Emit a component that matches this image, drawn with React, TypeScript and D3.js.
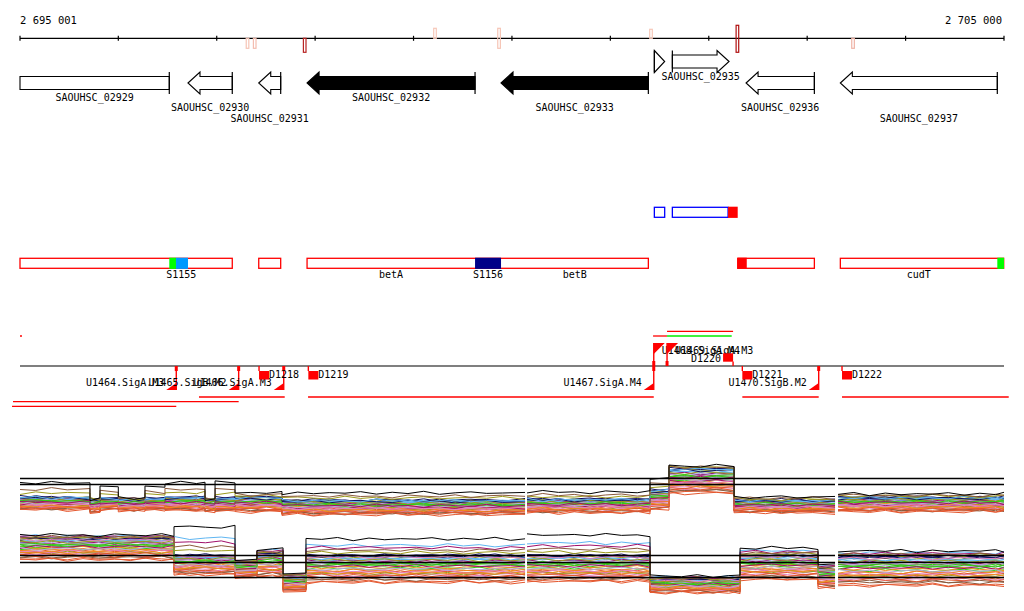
import * as d3 from "d3";

const VIEW_START = 2695001;
const VIEW_END = 2705000;

const axisTicks = [2695001, 2696000, 2697000, 2698000, 2699000, 2700000, 2701000, 2702000, 2703000, 2704000, 2705000];
const axisLabels = ["2 695 001", "2 705 000"];

// small read-count marks on the ruler (fwd above, rev below)
const axisMarks = [
  { pos: 2697313, fwd: 0, rev: 1, score: 0.12 },
  { pos: 2697386, fwd: 0, rev: 1, score: 0.15 },
  { pos: 2697894, fwd: 0, rev: 1.4, score: 0.9 },
  { pos: 2699218, fwd: 1, rev: 0, score: 0.1 },
  { pos: 2699869, fwd: 1, rev: 1, score: 0.12 },
  { pos: 2701413, fwd: 0.9, rev: 0, score: 0.1 },
  { pos: 2702291, fwd: 1.3, rev: 1.4, score: 1 },
  { pos: 2703466, fwd: 0, rev: 1, score: 0.2 },
];

const genes = [
  { name: "SAOUHSC_02929", start: 2694700, end: 2696518, strand: -1, filled: false, labelLevel: 0 },
  { name: "SAOUHSC_02930", start: 2696708, end: 2697158, strand: -1, filled: false, labelLevel: 1 },
  { name: "SAOUHSC_02931", start: 2697427, end: 2697650, strand: -1, filled: false, labelLevel: 2 },
  { name: "SAOUHSC_02932", start: 2697918, end: 2699625, strand: -1, filled: true, labelLevel: 0 },
  { name: "SAOUHSC_02933", start: 2699889, end: 2701386, strand: -1, filled: true, labelLevel: 1 },
  { name: "", start: 2701447, end: 2701552, strand: 1, filled: false, labelLevel: 0 },
  { name: "SAOUHSC_02935", start: 2701630, end: 2702206, strand: 1, filled: false, labelLevel: 0 },
  { name: "SAOUHSC_02936", start: 2702379, end: 2703073, strand: -1, filled: false, labelLevel: 1 },
  { name: "SAOUHSC_02937", start: 2703337, end: 2704932, strand: -1, filled: false, labelLevel: 2 },
];

const featureBoxes = [
  { row: 0, start: 2701447, end: 2701552, color: "#0000ff" },
  { row: 0, start: 2701630, end: 2702196, color: "#0000ff" },
  { row: 1, start: 2695001, end: 2697158, color: "#ff0000" },
  { row: 1, start: 2697427, end: 2697650, color: "#ff0000" },
  { row: 1, start: 2697918, end: 2701386, color: "#ff0000" },
  { row: 1, start: 2702294, end: 2703073, color: "#ff0000" },
  { row: 1, start: 2703337, end: 2704997, color: "#ff0000" },
];
const featureFills = [
  { row: 0, start: 2702196, end: 2702294, color: "#ff0000" },
  { row: 1, start: 2696518, end: 2696586, color: "#00ff00" },
  { row: 1, start: 2696586, end: 2696708, color: "#0099ff" },
  { row: 1, start: 2699625, end: 2699889, color: "#000088" },
  { row: 1, start: 2702294, end: 2702386, color: "#ff0000" },
  { row: 1, start: 2704932, end: 2705000, color: "#00ff00" },
];
const featureLabels = [
  { text: "S1155", start: 2696518, end: 2696760 },
  { text: "betA", start: 2697918, end: 2699625 },
  { text: "S1156", start: 2699625, end: 2699889 },
  { text: "betB", start: 2699889, end: 2701386 },
  { text: "cudT", start: 2703337, end: 2704932 },
];

const tssSites = [
  { pos: 2696589, strand: -1, label: "U1464.SigA.M3" },
  { pos: 2697223, strand: -1, label: "U1465.SigB.M2" },
  { pos: 2697681, strand: -1, label: "U1466.SigA.M3" },
  { pos: 2701441, strand: -1, label: "U1467.SigA.M4" },
  { pos: 2703117, strand: -1, label: "U1470.SigB.M2" },
  { pos: 2701441, strand: 1, label: "U1468.SigA.M4" },
  { pos: 2701576, strand: 1, label: "U1469.SigA.M3" },
];
const dSites = [
  { pos: 2697430, strand: -1, label: "D1218" },
  { pos: 2697931, strand: -1, label: "D1219" },
  { pos: 2702247, strand: 1, label: "D1220" },
  { pos: 2702341, strand: -1, label: "D1221" },
  { pos: 2703354, strand: -1, label: "D1222" },
];
const transcripts = [
  { start: 2694930, end: 2697223, strand: -1, level: 2, color: "#ff0000" },
  { start: 2694920, end: 2696589, strand: -1, level: 3, color: "#ff0000" },
  { start: 2696820, end: 2697691, strand: -1, level: 1, color: "#ff0000" },
  { start: 2697928, end: 2701441, strand: -1, level: 1, color: "#ff0000" },
  { start: 2702341, end: 2703117, strand: -1, level: 1, color: "#ff0000" },
  { start: 2703354, end: 2705048, strand: -1, level: 1, color: "#ff0000" },
  { start: 2701576, end: 2702247, strand: 1, level: 2, color: "#ff0000" },
  { start: 2701576, end: 2702233, strand: 1, level: 1, color: "#00ee00" },
  { start: 2701434, end: 2701576, strand: 1, level: 1, color: "#ff0000" },
  { start: 2695001, end: 2695021, strand: 1, level: 1, color: "#ff0000" },
];

// expression tiles
const panels = [
  [2695001, 2700133],
  [2700153, 2703283],
  [2703314, 2705000],
];
const track1Refs = [11.3, 10.1];
const track2Refs = [11.9, 10.5, 7.5];

const track1Segments = [
  { from: 2695001, to: 2695712, bottom: 5.0, top: 7.6, peak: 10.4 },
  { from: 2695712, to: 2695814, bottom: 4.4, top: 7.2, peak: 7.2 },
  { from: 2695814, to: 2696000, bottom: 5.0, top: 7.4, peak: 9.8 },
  { from: 2696000, to: 2696271, bottom: 4.8, top: 7.2, peak: 7.4 },
  { from: 2696271, to: 2696474, bottom: 5.0, top: 7.4, peak: 9.6 },
  { from: 2696474, to: 2696881, bottom: 4.8, top: 7.6, peak: 10.4 },
  { from: 2696881, to: 2696983, bottom: 4.6, top: 7.2, peak: 7.2 },
  { from: 2696983, to: 2697186, bottom: 4.8, top: 7.4, peak: 10.6 },
  { from: 2697186, to: 2697663, bottom: 4.6, top: 7.6, peak: 8.4 },
  { from: 2697663, to: 2700133, bottom: 4.0, top: 7.0, peak: 8.4 },
  { from: 2700153, to: 2701403, bottom: 4.4, top: 7.2, peak: 8.6 },
  { from: 2701403, to: 2701596, bottom: 5.0, top: 9.0, peak: 11.4 },
  { from: 2701596, to: 2702257, bottom: 8.2, top: 13.4, peak: 13.8 },
  { from: 2702257, to: 2703283, bottom: 4.4, top: 7.0, peak: 7.6 },
  { from: 2703314, to: 2705000, bottom: 4.6, top: 7.6, peak: 8.2 },
];
const track2Segments = [
  { from: 2695001, to: 2696566, bottom: 11.0, top: 15.4, peak: 16.0 },
  { from: 2696566, to: 2697186, bottom: 8.0, top: 12.0, peak: 17.6 },
  { from: 2697186, to: 2697409, bottom: 7.4, top: 10.6, peak: 11.0 },
  { from: 2697409, to: 2697674, bottom: 7.6, top: 12.4, peak: 13.2 },
  { from: 2697674, to: 2697907, bottom: 4.6, top: 7.8, peak: 8.4 },
  { from: 2697907, to: 2700133, bottom: 6.4, top: 12.0, peak: 15.2 },
  { from: 2700153, to: 2701403, bottom: 6.6, top: 12.0, peak: 16.0 },
  { from: 2701403, to: 2702318, bottom: 4.4, top: 7.2, peak: 7.8 },
  { from: 2702318, to: 2703110, bottom: 7.0, top: 12.0, peak: 13.4 },
  { from: 2703110, to: 2703283, bottom: 5.4, top: 9.4, peak: 10.0 },
  { from: 2703314, to: 2705000, bottom: 5.8, top: 11.8, peak: 12.8 },
];

const seriesColors = [
  "#000000", "#8b5a3c", "#9c9a1c", "#e4572e", "#a0106a", "#5fb6f2", "#33cc11", "#e47fbf", "#101060", "#b8a6dc",
  "#f08a1c", "#e4572e", "#9c9a1c", "#a0106a", "#33cc11", "#5fb6f2", "#e47fbf", "#8b5a3c", "#b8a6dc", "#e4572e",
  "#101060", "#f08a1c", "#9c9a1c", "#a0106a", "#33cc11", "#e47fbf", "#5fb6f2", "#e4572e", "#b8a6dc", "#8b5a3c",
  "#f08a1c", "#9c9a1c", "#e4572e", "#a0106a", "#33cc11", "#5fb6f2", "#e47fbf", "#e4572e", "#b8a6dc", "#101060",
];
const track1Ranks = [2, 1.55, 1.3, 0.08, 0.62, 0.95, 0.7, 0.45, 0.9, 0.55, 0.3, 0.18, 0.82, 0.5, 0.66, 0.88, 0.4, 0.12, 0.74, 0.25,
  0.97, 0.58, 0.35, 0.78, 0.6, 0.22, 0.85, 0.02, 0.68, 0.15, 0.48, 0.92, 0.38, 0.72, 0.52, 0.8, 0.28, 0.42, 0.64, 0.99];
const track2Ranks = [2, 1.3, 1.15, 0.05, 1.45, 1.6, 0.7, 0.92, 0.98, 0.5, 0.35, 0.2, 0.82, 0.6, 0.66, 0.88, 0.4, 0.12, 0.74, 0.27,
  0.95, 0.56, 0.33, 0.78, 0.62, 0.22, 0.85, 0.02, 0.68, 0.15, 0.46, 0.9, 0.38, 0.72, 0.52, 0.8, 0.3, 0.44, 0.64, 0.99];
const wobble = [0.3, -0.5, 0.8, -0.2, 0.1, -0.9, 0.6, 0.0, -0.4, 0.7, -0.7, 0.2, 0.5, -0.1, -0.6, 0.9, -0.3, 0.4, -0.8, 0.1,
  0.6, -0.5, 0.0, 0.3, -0.2, 0.8, -0.9, 0.5, -0.4, 0.2, -0.1, 0.7, -0.6, 0.4, -0.3, 0.9, -0.7, 0.1, 0.6, -0.2, 0.0];

const FONT = "'DejaVu Sans Mono', monospace";
const STEP_BP = 160;

type Seg = { from: number; to: number; bottom: number; top: number; peak: number };

const levelAt = (s: Seg, r: number) =>
  r <= 1 ? s.bottom + r * (s.top - s.bottom) : s.top + (r - 1) * (s.peak - s.top);

function seriesPaths(segments: Seg[], ranks: number[], x: any, y: any) {
  const line = d3.line<[number, number]>()
    .x(d => x(d[0]))
    .y(d => y(d[1]));
  return ranks.map((r, si) => {
    let k = 0;
    return panels.map(([a, b]) => {
      const pts: [number, number][] = [];
      segments.filter(s => s.from >= a && s.to <= b).forEach(s => {
        const base = levelAt(s, r);
        const w = () => wobble[(si * 13 + k++) % wobble.length] * 0.38;
        pts.push([s.from, base + w()]);
        for (let p = s.from + STEP_BP; p < s.to - STEP_BP / 2; p += STEP_BP) {
          pts.push([p, base + w()]);
        }
        pts.push([s.to, base + w()]);
      });
      return line(pts) || "";
    });
  });
}

export default function App() {
  const x = d3.scaleLinear().domain([VIEW_START, VIEW_END]).range([20, 1004]);
  const y1 = d3.scaleLinear().domain([4, 14]).range([515, 465]);
  const y2 = d3.scaleLinear().domain([4, 17]).range([595, 530]);
  const markColor = d3.interpolateRgb("#ffdccc", "#b01010");
  const markH = 10;

  const axisY = 38.3;
  const geneRowY = { 1: 61.5, [-1]: 83 } as Record<number, number>;
  const featRowY = [212.3, 263.3];
  const tssY = 366;

  const t1 = seriesPaths(track1Segments, track1Ranks, x, y1);
  const t2 = seriesPaths(track2Segments, track2Ranks, x, y2);
  const order = d3.range(seriesColors.length).reverse();

  const genePath = (g: typeof genes[number]) => {
    const cy = geneRowY[g.strand];
    const H = 11, s = 6.5;
    const clipped = g.start < VIEW_START;
    const x0 = x(Math.max(g.start, VIEW_START));
    const x1 = x(g.end);
    const len = x1 - x0;
    const h = Math.min(12, len);
    if (clipped) {
      return { body: `M${x0},${cy - s}H${x1}V${cy + s}H${x0}Z`, base: x1, cy, H };
    }
    if (g.strand < 0) {
      const tip = x0, base = x1;
      if (len <= 12) return { body: `M${base},${cy - H}L${tip},${cy}L${base},${cy + H}Z`, base, cy, H };
      return {
        body: `M${tip},${cy}L${tip + h},${cy - H}V${cy - s}H${base}V${cy + s}H${tip + h}V${cy + H}Z`,
        base, cy, H,
      };
    }
    const tip = x1, base = x0;
    if (len <= 12) return { body: `M${base},${cy - H}L${tip},${cy}L${base},${cy + H}Z`, base, cy, H };
    return {
      body: `M${tip},${cy}L${tip - h},${cy - H}V${cy - s}H${base}V${cy + s}H${tip - h}V${cy + H}Z`,
      base, cy, H,
    };
  };

  return (
    <svg width={1024} height={611} style={{ position: "absolute", left: 0, top: 0, background: "#fff" }}
      fontFamily={FONT} fontSize={10}>
      <rect width={1024} height={611} fill="#fff" />
      {/* ruler */}
      <text x={x(VIEW_START)} y={24} fontSize={10.5}>{axisLabels[0]}</text>
      <text x={x(VIEW_END) - 2} y={24} fontSize={10.5} textAnchor="end">{axisLabels[1]}</text>
      <line x1={x(VIEW_START)} x2={x(VIEW_END)} y1={axisY} y2={axisY} stroke="#000" strokeWidth={1.2} />
      {axisTicks.map(t => (
        <line key={t} x1={x(t)} x2={x(t)} y1={axisY - 2.5} y2={axisY + 2.5} stroke="#000" strokeWidth={1.2} />
      ))}
      {axisMarks.map((m, i) => (
        <rect key={i} x={x(m.pos) - 1.3} width={2.6}
          y={axisY - m.fwd * markH} height={(m.fwd + m.rev) * markH}
          fill="none" stroke={markColor(m.score)} strokeWidth={1.2} />
      ))}

      {/* genes */}
      {genes.map(g => {
        const p = genePath(g);
        const vx0 = x(Math.max(g.start, VIEW_START));
        const vx1 = x(g.end);
        const ly = (g.strand > 0 ? 79.5 : 101) + g.labelLevel * 10.3;
        return (
          <g key={g.name + g.start}>
            <path d={p.body} fill={g.filled ? "#000" : "#fff"} stroke="#000" strokeWidth={1.1} />
            <line x1={p.base} x2={p.base} y1={p.cy - p.H} y2={p.cy + p.H} stroke="#000" strokeWidth={1.2} />
            {g.name && <text x={(vx0 + vx1) / 2} y={ly} textAnchor="middle">{g.name}</text>}
          </g>
        );
      })}

      {/* features */}
      {featureBoxes.map((f, i) => (
        <rect key={i} x={x(f.start)} width={x(f.end) - x(f.start)} y={featRowY[f.row] - 5} height={10}
          fill="none" stroke={f.color} strokeWidth={1.3} />
      ))}
      {featureFills.map((f, i) => (
        <rect key={i} x={x(f.start)} width={x(f.end) - x(f.start)} y={featRowY[f.row] - 5.6} height={11.2}
          fill={f.color} />
      ))}
      {featureLabels.map(l => (
        <text key={l.text} x={(x(l.start) + x(l.end)) / 2} y={featRowY[1] + 15} textAnchor="middle">{l.text}</text>
      ))}

      {/* TSS / transcripts */}
      {transcripts.map((t, i) => {
        const yy = t.strand < 0 ? tssY + 31 + (t.level - 1) * 4.7 : tssY - 30 - (t.level - 1) * 4.7;
        return <line key={i} x1={x(t.start)} x2={x(t.end)} y1={yy} y2={yy} stroke={t.color} strokeWidth={1.3} />;
      })}
      <line x1={x(VIEW_START)} x2={x(VIEW_END)} y1={tssY} y2={tssY} stroke="#000" strokeWidth={1.2} />
      {tssSites.map((t, i) => {
        const px = x(t.pos);
        if (t.strand < 0) {
          return (
            <g key={i}>
              <line x1={px} x2={px} y1={tssY} y2={tssY + 24} stroke="#f00" strokeWidth={1.4} />
              <rect x={px - 1.5} y={tssY} width={3} height={5} fill="#f00" />
              <path d={`M${px - 10},${tssY + 24}L${px},${tssY + 17}V${tssY + 24}Z`} fill="#f00" />
              <text x={px - 12} y={tssY + 20} textAnchor="end">{t.label}</text>
            </g>
          );
        }
        return (
          <g key={i}>
            <line x1={px} x2={px} y1={tssY} y2={tssY - 23} stroke="#f00" strokeWidth={1.4} />
            <rect x={px - 1.5} y={tssY - 5} width={3} height={5} fill="#f00" />
            <path d={`M${px},${tssY - 23}H${px + 11}L${px},${tssY - 12}Z`} fill="#f00" />
            <text x={px + 8} y={tssY - 12}>{t.label}</text>
          </g>
        );
      })}
      {dSites.map((d, i) => {
        const px = x(d.pos);
        if (d.strand < 0) {
          return (
            <g key={i}>
              <line x1={px} x2={px} y1={tssY} y2={tssY + 5} stroke="#f00" strokeWidth={1.4} />
              <rect x={px} y={tssY + 5} width={10} height={8.5} fill="#f00" />
              <text x={px + 10} y={tssY + 12}>{d.label}</text>
            </g>
          );
        }
        return (
          <g key={i}>
            <line x1={px} x2={px} y1={tssY} y2={tssY - 4.5} stroke="#f00" strokeWidth={1.4} />
            <rect x={px - 10} y={tssY - 12.7} width={10} height={8.4} fill="#f00" />
            <text x={px - 12} y={tssY - 4.5} textAnchor="end">{d.label}</text>
          </g>
        );
      })}

      {/* expression tracks */}
      <g fill="none" strokeWidth={1}>
        {order.map(si => t1[si].map((d, pi) => (
          <path key={`a${si}-${pi}`} d={d} stroke={seriesColors[si]} />
        )))}
        {order.map(si => t2[si].map((d, pi) => (
          <path key={`b${si}-${pi}`} d={d} stroke={seriesColors[si]} />
        )))}
      </g>
      <g stroke="#000" strokeWidth={1.3}>
        {panels.map(([a, b], pi) => track1Refs.map(v => (
          <line key={`r1${pi}${v}`} x1={x(a)} x2={x(b)} y1={y1(v)} y2={y1(v)} />
        )))}
        {panels.map(([a, b], pi) => track2Refs.map(v => (
          <line key={`r2${pi}${v}`} x1={x(a)} x2={x(b)} y1={y2(v)} y2={y2(v)} />
        )))}
      </g>
    </svg>
  );
}
